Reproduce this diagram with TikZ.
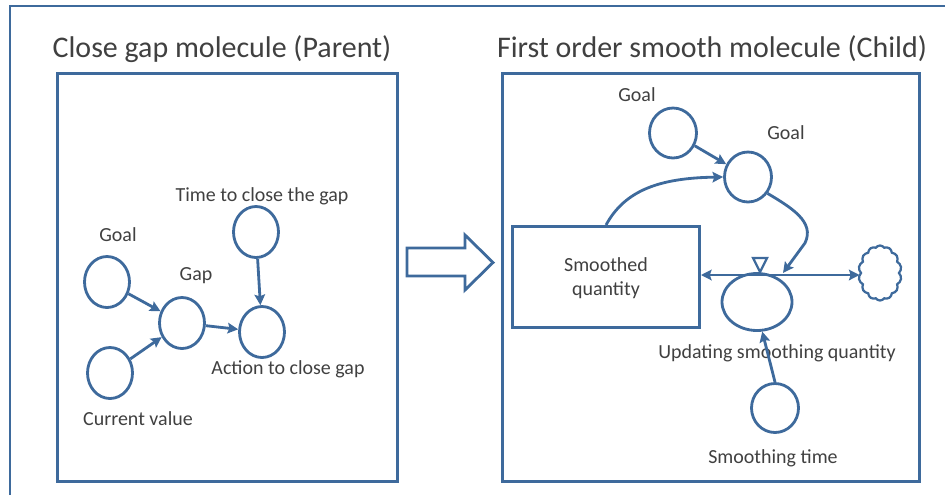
\documentclass[tikz,border=0pt]{standalone}
\usepackage{fontspec}
\setmainfont{Carlito}
\usepackage{tikz}
\usetikzlibrary{arrows.meta, shapes.geometric, shapes.symbols}
\usepackage{xcolor}
\definecolor{molblue}{HTML}{3E6A9C}
\definecolor{textgray}{HTML}{404040}
\newdimen\pxu
\pxu=0.025cm

\begin{document}
\begin{tikzpicture}[x=0.025cm, y=-0.025cm,
  panel/.style={rectangle, draw=molblue, line width=2.1pt, inner sep=0},
  heading/.style={text=textgray, font=\fontsize{21.3}{25}\selectfont},
  auxvar/.style={ellipse, draw=molblue, line width=2pt, inner sep=0,
    minimum width=45\pxu, minimum height=51\pxu},
  varlabel/.style={text=textgray, font=\fontsize{14.2}{17}\selectfont, align=center},
  link/.style={draw=molblue, line width=2pt,
    -{Stealth[length=7.5pt, width=7.5pt, inset=1.2pt]}}]
  \useasboundingbox (0,0) rectangle (945,495);

  % Outer frame, cut off at the right and bottom.
  \draw [molblue, line width=1.9pt] (10,495) -- (10,6) -- (945,6);

  % Parent molecule: close the gap.
  \node [heading] (parenttitle) at (222,49) {Close gap molecule (Parent)};
  \node [panel,
    minimum width=340\pxu,
    minimum height=408\pxu] (parent) at (227.5,277.5) {};

  \node [auxvar] (goal) at (107,282) {};
  \node [varlabel] (goallabel) at (118,235) {Goal};
  \node [auxvar] (current) at (110,373) {};
  \node [varlabel] (currentlabel) at (138,419) {Current value};
  \node [auxvar] (gap) at (182,323) {};
  \node [varlabel] (gaplabel) at (196,276) {Gap};
  \node [auxvar] (closetime) at (256,232) {};
  \node [varlabel] (closetimelabel) at (262,196) {Time to close the gap};
  \node [auxvar] (action) at (262,332) {};
  \node [varlabel] (actionlabel) at (288,369) {Action to close gap};

  \draw [link] (goal) -- (gap);
  \draw [link] (current) -- (gap);
  \draw [link] (gap) -- (action);
  \draw [link] (closetime) -- (action);

  % Block arrow from parent to child.
  \draw [molblue, line width=2pt, fill=white]
    (407,248) -- (465,248) -- (465,235) -- (493,262.5)
    -- (465,290) -- (465,276) -- (407,276) -- cycle;

  % Child molecule: first order smooth.
  \node [heading] (childtitle) at (712,49) {First order smooth molecule (Child)};
  \node [panel,
    minimum width=417\pxu,
    minimum height=408\pxu] (child) at (711,277.5) {};

  % Stock, flow and sink.
  \node [panel,
    minimum width=187\pxu,
    minimum height=101\pxu] (stock) at (606,277) {};
  \node [varlabel] (stocklabel) at (606,278) {Smoothed\\quantity};
  \node [auxvar,
    minimum width=70\pxu,
    minimum height=57\pxu] (flow) at (757,302) {};
  \node [varlabel] (flowlabel) at (777,353) {Updating smoothing quantity};
  \node [cloud,
    cloud puffs=14,
    cloud puff arc=110,
    draw=molblue,
    line width=1.6pt,
    inner sep=0,
    minimum width=43\pxu,
    minimum height=55\pxu] (sink) at (880,273) {};
  \coordinate (valve) at (760,275);
  \draw [link] (valve) -- (valve -| stock.east);
  \draw [link] (valve) -- (valve -| sink.west);
  \draw [molblue, line width=1.6pt, fill=white]
    (753,258) -- (767,258) -- (760,272) -- cycle;

  % Auxiliaries feeding the flow.
  \node [auxvar, minimum width=47\pxu, minimum height=50\pxu] (goalsrc) at (673,133) {};
  \node [varlabel] (goalsrclabel) at (637,95) {Goal};
  \node [auxvar, minimum width=47\pxu, minimum height=50\pxu] (goaldst) at (748,177) {};
  \node [varlabel] (goaldstlabel) at (786,133) {Goal};
  \node [auxvar, minimum width=47\pxu, minimum height=49\pxu] (smtime) at (775,408) {};
  \node [varlabel] (smtimelabel) at (773,458) {Smoothing time};
  \coordinate (flowin) at (783,273);

  \draw [link] (goalsrc) -- (goaldst);
  \draw [link] (stock.north) .. controls (625,190) and (660,178) .. (goaldst.west);
  \draw [link] (goaldst.-40) .. controls (792,208) and (815,222) .. (805,243) -- (flowin);
  \draw [link] (smtime.north) -- (flow.-80);
\end{tikzpicture}
\end{document}
